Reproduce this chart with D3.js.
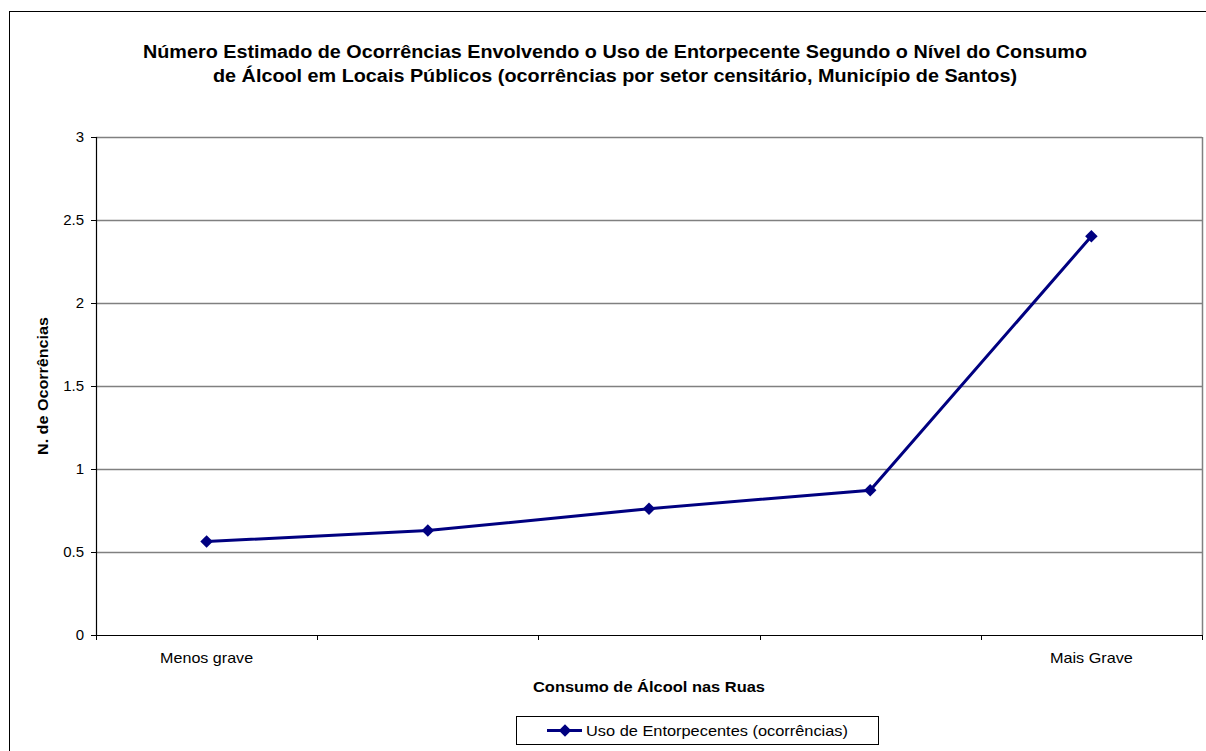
<!DOCTYPE html>
<html>
<head>
<meta charset="utf-8">
<script src="https://cdn.jsdelivr.net/npm/d3@7"></script>
<style>
  body { margin: 0; background: #fff; }
  text { font-family: 'Liberation Sans', Arial, sans-serif; }
</style>
</head>
<body>
<div id="chart"></div>
<script>
let categories = ['Menos grave', '', '', '', 'Mais Grave']
let values = [0.563, 0.629, 0.761, 0.872, 2.402]
let yTicks = [0, 0.5, 1, 1.5, 2, 2.5, 3]
let seriesName = 'Uso de Entorpecentes (ocorrências)'
let titleLines = [
  'Número Estimado de Ocorrências Envolvendo o Uso de Entorpecente Segundo o Nível do Consumo',
  'de Álcool em Locais Públicos (ocorrências por setor censitário, Município de Santos)'
]
// rendered widths of the title lines in the original
let titleWidths = [944, 804]
let categoryWidths = [93, 83]

let margin = { top: 137, left: 96, right: 4, bottom: 116 }
let fullWidth = 1206
let fullHeight = 751
let width = fullWidth - margin.left - margin.right
let height = fullHeight - margin.top - margin.bottom

let root = d3
  .select('#chart')
  .append('svg')
  .attr('width', fullWidth)
  .attr('height', fullHeight)

// outer chart frame
root
  .append('rect')
  .attr('x', 9.5)
  .attr('y', 11.5)
  .attr('width', 1220)
  .attr('height', 800)
  .attr('fill', 'none')
  .attr('stroke', '#000')

root
  .selectAll('.title')
  .data(titleLines)
  .enter()
  .append('text')
  .attr('class', 'title')
  .attr('x', 615)
  .attr('y', (d, i) => 58 + i * 24)
  .attr('text-anchor', 'middle')
  .attr('font-size', 18)
  .attr('font-weight', 'bold')
  .attr('textLength', (d, i) => titleWidths[i])
  .attr('lengthAdjust', 'spacingAndGlyphs')
  .text(d => d)

let svg = root
  .append('g')
  .attr('transform', 'translate(' + margin.left + ',' + margin.top + ')')

let xPositionScale = d3
  .scaleBand()
  .domain(d3.range(categories.length))
  .range([0, width])

let yPositionScale = d3.scaleLinear().domain([0, 3]).range([height, 0])

// gridlines
svg
  .selectAll('.grid')
  .data(yTicks.filter(d => d > 0))
  .enter()
  .append('line')
  .attr('class', 'grid')
  .attr('x1', 0)
  .attr('x2', width)
  .attr('y1', d => Math.round(yPositionScale(d)) + 0.5)
  .attr('y2', d => Math.round(yPositionScale(d)) + 0.5)
  .attr('stroke', '#808080')
  .attr('stroke-width', 1.5)

// right border of plot area
svg
  .append('line')
  .attr('x1', width + 0.5)
  .attr('x2', width + 0.5)
  .attr('y1', 0)
  .attr('y2', height)
  .attr('stroke', '#808080')
  .attr('stroke-width', 1.5)

let yAxis = d3
  .axisLeft(yPositionScale)
  .tickValues(yTicks)
  .tickSize(5)
  .tickPadding(7)
  .tickFormat(d3.format('~g'))
svg
  .append('g')
  .attr('class', 'axis y-axis')
  .call(yAxis)

let xAxis = d3
  .axisBottom(xPositionScale)
  .tickSize(0)
  .tickPadding(17)
  .tickFormat(i => categories[i])
svg
  .append('g')
  .attr('class', 'axis x-axis')
  .attr('transform', 'translate(0,' + height + ')')
  .call(xAxis)

// category boundary ticks
svg
  .selectAll('.x-tick')
  .data(d3.range(categories.length + 1))
  .enter()
  .append('line')
  .attr('class', 'x-tick')
  .attr('x1', i => Math.round(i * xPositionScale.step()) + 0.5)
  .attr('x2', i => Math.round(i * xPositionScale.step()) + 0.5)
  .attr('y1', height)
  .attr('y2', height + 5)
  .attr('stroke', '#000')

svg.selectAll('.axis path').attr('stroke', '#000').attr('stroke-width', 1.2)
svg.selectAll('.axis line').attr('stroke', '#000')
svg
  .selectAll('.axis text')
  .attr('font-size', 15)
  .attr('fill', '#000')
  .attr('font-family', 'Liberation Sans, Arial, sans-serif')

svg
  .selectAll('.x-axis text')
  .filter(i => categories[i] !== '')
  .attr('textLength', i => (i === 0 ? categoryWidths[0] : categoryWidths[1]))
  .attr('lengthAdjust', 'spacingAndGlyphs')

// axis titles
svg
  .append('text')
  .attr('x', 553)
  .attr('y', height + 57)
  .attr('text-anchor', 'middle')
  .attr('font-size', 15)
  .attr('font-weight', 'bold')
  .attr('textLength', 232)
  .attr('lengthAdjust', 'spacingAndGlyphs')
  .text('Consumo de Álcool nas Ruas')

svg
  .append('text')
  .attr('transform', 'translate(-48,' + height / 2 + ') rotate(-90)')
  .attr('text-anchor', 'middle')
  .attr('font-size', 15)
  .attr('font-weight', 'bold')
  .attr('textLength', 138)
  .attr('lengthAdjust', 'spacingAndGlyphs')
  .text('N. de Ocorrências')

let line = d3
  .line()
  .x((d, i) => xPositionScale(i) + xPositionScale.bandwidth() / 2)
  .y(d => yPositionScale(d))

svg
  .append('path')
  .datum(values)
  .attr('d', line)
  .attr('fill', 'none')
  .attr('stroke', '#000080')
  .attr('stroke-width', 3)

let diamond = d3.symbol().type(d3.symbolDiamond2).size(100)

svg
  .selectAll('.point')
  .data(values)
  .enter()
  .append('path')
  .attr('class', 'point')
  .attr('d', diamond)
  .attr('transform', (d, i) =>
    'translate(' + (xPositionScale(i) + xPositionScale.bandwidth() / 2) + ',' + yPositionScale(d) + ')'
  )
  .attr('fill', '#000080')

// legend
let legend = root.append('g').attr('transform', 'translate(516,716)')
legend
  .append('rect')
  .attr('x', 0.5)
  .attr('y', 0.5)
  .attr('width', 362)
  .attr('height', 28)
  .attr('fill', '#fff')
  .attr('stroke', '#000')
legend
  .append('line')
  .attr('x1', 31)
  .attr('x2', 66)
  .attr('y1', 14.5)
  .attr('y2', 14.5)
  .attr('stroke', '#000080')
  .attr('stroke-width', 3)
legend
  .append('path')
  .attr('d', diamond)
  .attr('transform', 'translate(49,14.5)')
  .attr('fill', '#000080')
legend
  .append('text')
  .attr('x', 70)
  .attr('y', 20)
  .attr('font-size', 15)
  .attr('textLength', 262)
  .attr('lengthAdjust', 'spacingAndGlyphs')
  .text(seriesName)
</script>
</body>
</html>
